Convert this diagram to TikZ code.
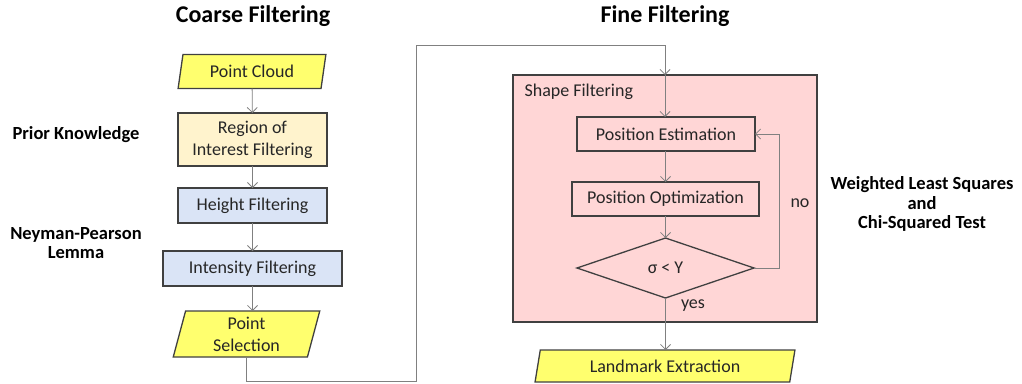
\documentclass[tikz,border=0pt]{standalone}
\usepackage{fontspec}
\setmainfont{Carlito}
\usetikzlibrary{shapes.geometric,arrows.meta,calc}
\definecolor{dataY}{RGB}{255,255,110}
\definecolor{roiY}{RGB}{255,243,205}
\definecolor{boxB}{RGB}{218,228,246}
\definecolor{pinkF}{RGB}{255,214,214}
\definecolor{edgeC}{RGB}{64,64,64}
\definecolor{lineC}{RGB}{128,128,128}
\tikzset{
  base/.style={draw=edgeC, line width=1.3pt, outer sep=0pt, inner sep=0pt, align=center, font=\fontsize{18}{22}\selectfont, text=black!85},
  procbox/.style={base, rectangle},
  databox/.style={base, trapezium, trapezium stretches=true, fill=dataY},
  arr/.style={draw=lineC, line width=0.8pt, -{Straight Barb[length=5pt,width=10pt]}},
  plain/.style={draw=lineC, line width=0.8pt},
  title/.style={font=\bfseries\fontsize{24}{28}\selectfont},
  side/.style={font=\bfseries\fontsize{18.5}{19.5}\selectfont, align=center},
  lbl/.style={font=\fontsize{18}{22}\selectfont, text=black!85}
}
\begin{document}
\begin{tikzpicture}[x=1pt,y=-1pt]
\useasboundingbox (0,0) rectangle (1022,383);
% titles
\node[title] (t1) at (253,16) {Coarse Filtering};
\node[title] (t2) at (665,16) {Fine Filtering};
% side labels
\node[side] (pk) at (76,135) {Prior Knowledge};
\node[side] (np) at (76,243) {Neyman-Pearson\\Lemma};
\node[side] (wl) at (922,204) {Weighted Least Squares\\and\\Chi-Squared Test};
% coarse chain
\node[databox, trapezium left angle=76.8, trapezium right angle=103.2, minimum width=148, minimum height=34] (pc) at (252,71.5) {Point Cloud};
\node[procbox, fill=roiY, minimum width=149, minimum height=53] (roi) at (252.5,139.5) {Region of\\Interest Filtering};
\node[procbox, fill=boxB, minimum width=149, minimum height=35] (hf) at (252.5,205.5) {Height Filtering};
\node[procbox, fill=boxB, minimum width=179, minimum height=35] (inf) at (252.5,268.5) {Intensity Filtering};
\node[databox, trapezium left angle=78.9, trapezium right angle=101.1, minimum width=147, minimum height=46] (ps) at (246.5,334) {Point\\Selection};
% fine
\node[procbox, fill=pinkF, minimum width=304, minimum height=247] (sf) at (665,198.5) {};
\node[lbl, anchor=west] (sft) at (521,92) {Shape Filtering};
\node[procbox, minimum width=178, minimum height=34] (pe) at (666,134) {Position Estimation};
\node[procbox, minimum width=187, minimum height=34] (po) at (665.5,199) {Position Optimization};
\node[base, diamond, minimum width=177, minimum height=60] (dia) at (665.5,268) {σ < Υ};
\node[databox, trapezium left angle=76, trapezium right angle=104, minimum width=260, minimum height=32] (le) at (665,366) {Landmark Extraction};
\node[lbl] (no) at (800,203) {no};
\node[lbl] (yes) at (693,306) {yes};
% connectors
\coordinate (c1) at (416,381);
\coordinate (c2) at (416,45);
\coordinate (lp) at (779,0);
\draw[arr] (pc) -- (roi);
\draw[arr] (roi) -- (hf);
\draw[arr] (hf) -- (inf);
\draw[arr] (inf.south) -- (inf.south |- ps.north);
\draw[arr] (ps.south) |- (c1) -- (c2) -| (sf.north);
\draw[arr] (sf.north) -- (sf.north |- pe.north);
\draw[arr] (pe.south -| po.north) -- (po.north);
\draw[arr] (po.south) -- (dia.north);
\draw[arr] (dia.east) -- (dia.east -| lp) -- (lp |- pe.east) -- (pe.east);
\draw[arr] (dia.south) -- (dia.south |- le.north);
\end{tikzpicture}
\end{document}
